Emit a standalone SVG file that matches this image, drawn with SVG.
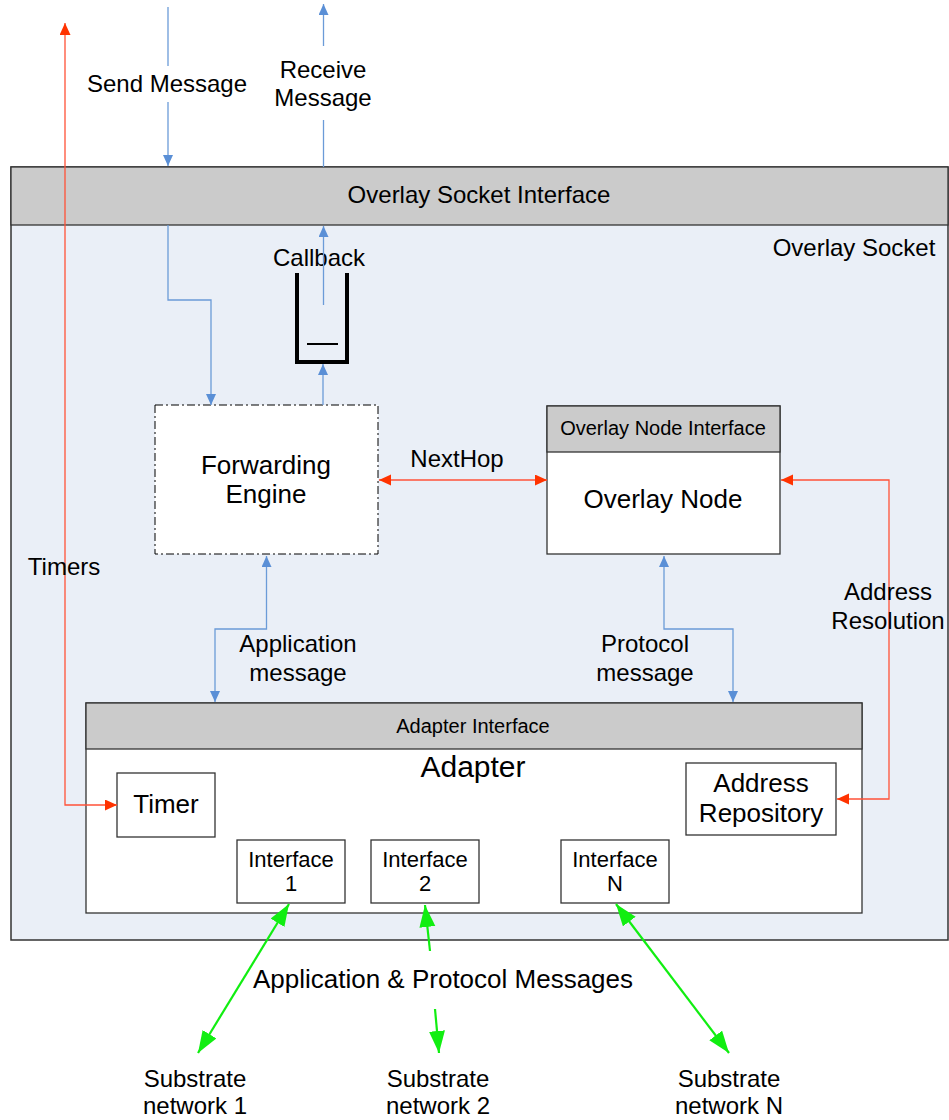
<svg xmlns="http://www.w3.org/2000/svg" width="949" height="1120" viewBox="0 0 949 1120">
  <style>
    text { font-family: "Liberation Sans", Arial, Helvetica, sans-serif; fill: #000; text-anchor: middle; }
    .t24 { font-size: 24px; }
    .t26 { font-size: 26px; }
    .t22 { font-size: 22px; }
    .t20 { font-size: 20px; }
    .box { fill: #fff; stroke: #333; stroke-width: 1.3; }
    .hdr { fill: #cbcbcb; stroke: #333; stroke-width: 1.3; }
    .blue { fill: none; stroke: #6b9bd8; stroke-width: 1.3; }
    .red { fill: none; stroke: #ff5238; stroke-width: 1.3; }
    .green { fill: none; stroke: #11ee11; stroke-width: 2.2; }
  </style>
  <defs>
    <marker id="ab" markerUnits="userSpaceOnUse" markerWidth="12" markerHeight="12" refX="11" refY="5" orient="auto-start-reverse">
      <path d="M0,0 L11,5 L0,10 z" fill="#5a8fd6"/>
    </marker>
    <marker id="ar" markerUnits="userSpaceOnUse" markerWidth="14" markerHeight="12" refX="12" refY="5.5" orient="auto-start-reverse">
      <path d="M0,0 L12,5.5 L0,11 z" fill="#ff3300"/>
    </marker>
    <marker id="ag" markerUnits="userSpaceOnUse" markerWidth="24" markerHeight="18" refX="22" refY="8" orient="auto-start-reverse">
      <path d="M0,0 L22,8 L0,16 z" fill="#11ee11"/>
    </marker>
  </defs>

  <rect width="949" height="1120" fill="#fff"/>

  <!-- Overlay socket container -->
  <g id="overlay-socket">
    <rect x="11" y="167" width="937" height="773" fill="#eaeff7" stroke="#333" stroke-width="1.5"/>
    <rect x="11" y="167" width="937" height="58" class="hdr" stroke-width="1.5"/>
    <text class="t24" x="479" y="203">Overlay Socket Interface</text>
    <text class="t24" x="854" y="256">Overlay Socket</text>
  </g>

  <!-- Callback queue -->
  <g id="callback">
    <text class="t24" x="319" y="266">Callback</text>
    <polyline points="297,273 297,362 347,362 347,273" fill="none" stroke="#000" stroke-width="4"/>
    <line x1="307" y1="344" x2="338" y2="344" stroke="#000" stroke-width="2"/>
  </g>

  <!-- Forwarding engine -->
  <g id="forwarding-engine">
    <rect x="155" y="405" width="223" height="149" fill="#fff" stroke="#000" stroke-width="1" stroke-dasharray="8 3 2 3"/>
    <text class="t26" x="266" y="474">Forwarding</text>
    <text class="t26" x="266" y="503">Engine</text>
  </g>

  <!-- Overlay node -->
  <g id="overlay-node">
    <rect x="547" y="406" width="233" height="148" class="box"/>
    <rect x="547" y="406" width="233" height="46" class="hdr"/>
    <text class="t20" x="663" y="435">Overlay Node Interface</text>
    <text class="t26" x="663" y="508">Overlay Node</text>
  </g>

  <!-- Adapter -->
  <g id="adapter">
    <rect x="86" y="703" width="776" height="210" class="box"/>
    <rect x="86" y="703" width="776" height="46" class="hdr"/>
    <text class="t20" x="473" y="733">Adapter Interface</text>
    <text x="473" y="777" style="font-size:30px">Adapter</text>
  </g>

  <g id="timer">
    <rect x="117" y="773" width="98" height="64" class="box"/>
    <text class="t26" x="166" y="813">Timer</text>
  </g>

  <g id="address-repository">
    <rect x="686" y="763" width="150" height="72" class="box"/>
    <text class="t26" x="761" y="792">Address</text>
    <text class="t26" x="761" y="822">Repository</text>
  </g>

  <g id="interface-1">
    <rect x="237" y="840" width="108" height="63" class="box"/>
    <text class="t22" x="291" y="867">Interface</text>
    <text class="t22" x="291" y="891">1</text>
  </g>
  <g id="interface-2">
    <rect x="371" y="840" width="108" height="63" class="box"/>
    <text class="t22" x="425" y="867">Interface</text>
    <text class="t22" x="425" y="891">2</text>
  </g>
  <g id="interface-n">
    <rect x="561" y="840" width="108" height="63" class="box"/>
    <text class="t22" x="615" y="867">Interface</text>
    <text class="t22" x="615" y="891">N</text>
  </g>

  <!-- Connectors -->
  <g id="connectors">
    <!-- send path -->
    <line x1="168" y1="7" x2="168" y2="66" class="blue"/>
    <line x1="168" y1="102" x2="168" y2="166" class="blue" marker-end="url(#ab)"/>
    <polyline points="168,225 168,300 211,300 211,405" class="blue" marker-end="url(#ab)"/>
    <!-- receive path -->
    <line x1="323.5" y1="46" x2="323.5" y2="4" class="blue" marker-end="url(#ab)"/>
    <line x1="323.5" y1="167" x2="323.5" y2="120" class="blue"/>
    <line x1="323.5" y1="305" x2="323.5" y2="226" class="blue" marker-end="url(#ab)"/>
    <line x1="323" y1="405" x2="323" y2="364" class="blue" marker-end="url(#ab)"/>
    <!-- application message -->
    <polyline points="215,702 215,629 266.5,629 266.5,556" class="blue" marker-start="url(#ab)" marker-end="url(#ab)"/>
    <!-- protocol message -->
    <polyline points="664,556 664,629 733,629 733,702" class="blue" marker-start="url(#ab)" marker-end="url(#ab)"/>

    <!-- timers -->
    <polyline points="117,805 65,805 65,23" class="red" marker-start="url(#ar)" marker-end="url(#ar)"/>
    <!-- next hop -->
    <line x1="379" y1="480" x2="547" y2="480" class="red" marker-start="url(#ar)" marker-end="url(#ar)"/>
    <!-- address resolution -->
    <polyline points="781,480 889,480 889,799 837,799" class="red" marker-start="url(#ar)" marker-end="url(#ar)"/>

    <!-- substrate links -->
    <line x1="289" y1="904" x2="198" y2="1053" class="green" marker-start="url(#ag)" marker-end="url(#ag)"/>
    <line x1="430" y1="951" x2="425" y2="905" class="green" marker-end="url(#ag)"/>
    <line x1="435" y1="1009" x2="439" y2="1053" class="green" marker-end="url(#ag)"/>
    <line x1="616" y1="904" x2="729" y2="1053" class="green" marker-start="url(#ag)" marker-end="url(#ag)"/>
  </g>

  <!-- Connector labels -->
  <g id="labels">
    <text class="t24" x="167" y="92">Send Message</text>
    <text class="t24" x="323" y="78">Receive</text>
    <text class="t24" x="323" y="106">Message</text>
    <text class="t24" x="457" y="467">NextHop</text>
    <text class="t24" x="64" y="575">Timers</text>
    <text class="t24" x="888" y="600">Address</text>
    <text class="t24" x="888" y="629">Resolution</text>
    <text class="t24" x="298" y="652">Application</text>
    <text class="t24" x="298" y="681">message</text>
    <text class="t24" x="645" y="652">Protocol</text>
    <text class="t24" x="645" y="681">message</text>
    <text class="t26" x="443" y="988">Application &amp; Protocol Messages</text>
    <text class="t24" x="195" y="1087">Substrate</text>
    <text class="t24" x="195" y="1114">network 1</text>
    <text class="t24" x="438" y="1087">Substrate</text>
    <text class="t24" x="438" y="1114">network 2</text>
    <text class="t24" x="729" y="1087">Substrate</text>
    <text class="t24" x="729" y="1114">network N</text>
  </g>
</svg>
